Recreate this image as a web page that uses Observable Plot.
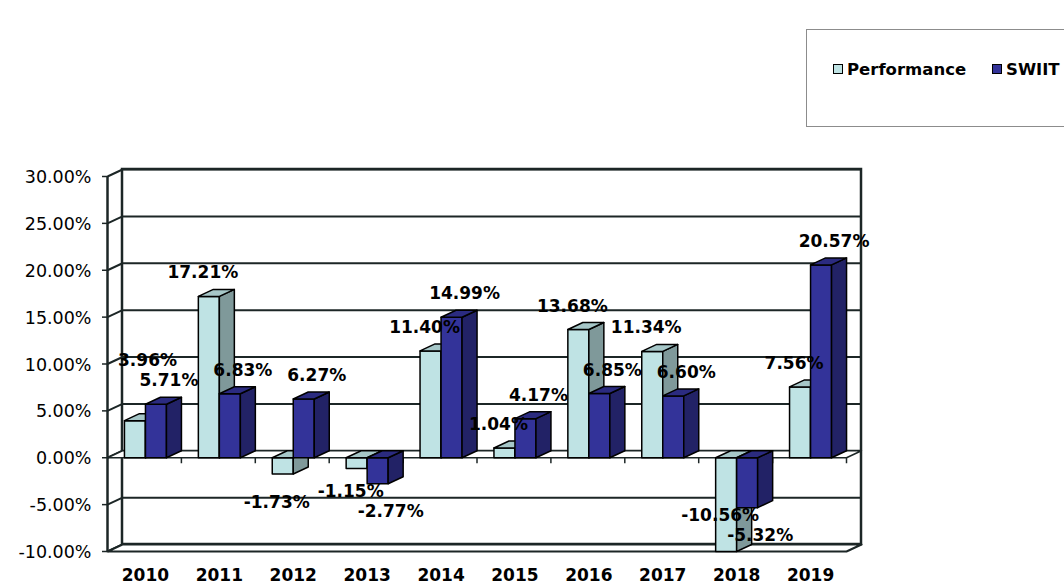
<!DOCTYPE html>
<html><head><meta charset="utf-8">
<script src="https://cdn.jsdelivr.net/npm/d3@7"></script>
<script src="https://cdn.jsdelivr.net/npm/@observablehq/plot@0.6"></script>
<style>
html,body{margin:0;padding:0;background:#fff;overflow:hidden;width:1064px;height:584px;}
#head{position:relative;height:130px;}
#legend{position:absolute;left:806px;top:29px;width:280px;height:98px;border:1px solid #8c8c8c;border-right:none;box-sizing:border-box;font-family:"DejaVu Sans";font-weight:bold;font-size:16.5px;color:#000;}
.item{position:absolute;top:29px;display:flex;align-items:center;height:20px;}
.sw{width:8px;height:8px;border:1.5px solid #000;margin-right:4px;}
#chart svg{display:block;}
</style></head>
<body>
<div id="head"><div id="legend"></div></div>
<div id="chart"></div>
<script>
// ---- data ----
const years = ["2010","2011","2012","2013","2014","2015","2016","2017","2018","2019"];
const performance = [3.96, 17.21, -1.73, -1.15, 11.40, 1.04, 13.68, 11.34, -10.56, 7.56];
const swiit = [5.71, 6.83, 6.27, -2.77, 14.99, 4.17, 6.85, 6.60, -5.32, 20.57];
const seriesNames = ["Performance", "SWIIT"];
const yTicks = [-10, -5, 0, 5, 10, 15, 20, 25, 30];

// ---- styles ----
const palette = [
  {front: "#bfe3e4", side: "#7f999a", top: "#a6c7c8"},
  {front: "#333399", side: "#222266", top: "#2b2b80"}
];
const W = 1064, H = 454, mL = 107, mR = 218, mT = 46, mB = 33;
const yMin = d3.min(yTicks), yMax = d3.max(yTicks);
const nCat = years.length;
const pxX = (W - mL - mR) / nCat, pxY = (H - mT - mB) / (yMax - yMin);
const DX = 15 / pxX, DY = 7 / pxY;      // 3D depth in data units
const BW = 21 / pxX, OFF = 1 / pxX;     // bar width, group nudge
const lineCol = "#1c2626";
const gapPos = 2.5, gapNeg = 3.0;        // label distance from bar end (in %)
const minSep = 2.2;                      // min vertical separation of a group's labels (in %)
const labelShift = [-6 / pxX, 13 / pxX]; // horizontal shift per series
const minLabelX = 40 / pxX;              // keep labels clear of the front axis

// legend
const leg = document.getElementById("legend");
const legLeft = [26, 185];
seriesNames.forEach((n, s) => {
  const it = document.createElement("div");
  it.className = "item";
  it.style.left = legLeft[s] + "px";
  it.innerHTML = `<span class="sw" style="background:${palette[s].front}"></span><span>${n}</span>`;
  leg.appendChild(it);
});

// polygons
let pid = 0;
function poly(arr, pts, fill) {
  const k = pid++;
  pts.concat([pts[0]]).forEach(([x, y]) => arr.push({x, y, k, fill}));
}
const faces = [];
const labels = [];
years.forEach((yr, i) => {
  const group = [];
  [performance, swiit].forEach((vals, s) => {
    const raw = vals[i];
    const v = Math.max(raw, yMin);
    const c = i + 0.5 + OFF;
    const x1 = s === 0 ? c - BW : c, x2 = x1 + BW;
    const lo = Math.min(0, v), hi = Math.max(0, v);
    const p = palette[s];
    poly(faces, [[x1, lo], [x2, lo], [x2, hi], [x1, hi]], p.front);
    poly(faces, [[x2, lo], [x2 + DX, lo + DY], [x2 + DX, hi + DY], [x2, hi]], p.side);
    poly(faces, [[x1, hi], [x2, hi], [x2 + DX, hi + DY], [x1 + DX, hi + DY]], p.top);
    group.push({
      x: Math.max((x1 + x2) / 2 + labelShift[s], minLabelX),
      y: raw >= 0 ? raw + gapPos : raw - gapNeg,
      text: raw.toFixed(2) + "%"
    });
  });
  // resolve collisions: the Performance label goes above the SWIIT label
  const [a, b] = group;
  if (Math.abs(a.y - b.y) < minSep || a.y < b.y && Math.sign(a.y) === Math.sign(b.y) && a.y < yMin + 2) {
    a.y = b.y + minSep;
  }
  group.forEach(g => { g.y = Math.max(g.y, yMin + 1.2); labels.push(g); });
});
const floor = [], zeroPlane = [];
poly(floor, [[0, yMin], [nCat, yMin], [nCat + DX, yMin + DY], [DX, yMin + DY]], "white");
poly(zeroPlane, [[0, 0], [nCat, 0], [nCat + DX, DY], [DX, DY]], "white");

const chart = Plot.plot({
  width: W, height: H,
  marginLeft: mL, marginRight: mR, marginTop: mT, marginBottom: mB,
  x: {domain: [0, nCat], axis: null},
  y: {domain: [yMin, yMax], axis: null},
  color: {type: "identity"},
  style: {fontFamily: "DejaVu Sans", fontSize: "17px", color: "#000", background: "white", overflow: "visible"},
  marks: [
    Plot.rect([0], {x1: DX, x2: nCat + DX, y1: yMin + DY, y2: yMax + DY, fill: "white", stroke: lineCol, strokeWidth: 2.5}),
    Plot.ruleY(yTicks, {y: d => d + DY, x1: DX, x2: nCat + DX, stroke: lineCol, strokeWidth: 2}),
    Plot.link(yTicks, {x1: 0, y1: d => d, x2: DX, y2: d => d + DY, stroke: lineCol, strokeWidth: 2}),
    Plot.ruleY(yTicks, {y: d => d, x1: -5 / pxX, x2: 0, stroke: lineCol, strokeWidth: 1.5}),
    Plot.line(floor, {x: "x", y: "y", z: "k", fill: "fill", stroke: lineCol, strokeWidth: 2}),
    Plot.ruleX([0], {y1: yMin, y2: yMax, stroke: lineCol, strokeWidth: 2.5}),
    Plot.line(zeroPlane, {x: "x", y: "y", z: "k", fill: "fill", stroke: lineCol, strokeWidth: 1.5}),
    Plot.ruleX(d3.range(1, nCat + 1), {y1: 0, y2: -6 / pxY, stroke: lineCol, strokeWidth: 1.5}),
    Plot.line(faces, {x: "x", y: "y", z: "k", fill: "fill", stroke: "#000", strokeWidth: 1.5, strokeLinejoin: "round"}),
    Plot.text(labels, {x: "x", y: "y", text: "text", fontWeight: "bold", fontSize: 17}),
    Plot.text(years, {x: (d, i) => i + 0.5 + OFF, y: yMin, dy: 24, text: d => d, fontWeight: "bold", fontSize: 17}),
    Plot.text(yTicks, {x: 0, y: d => d, text: d => d.toFixed(2) + "%", textAnchor: "end", dx: -16, dy: 1, fontSize: 17.5})
  ]
});
document.getElementById("chart").appendChild(chart);
</script>
</body></html>
